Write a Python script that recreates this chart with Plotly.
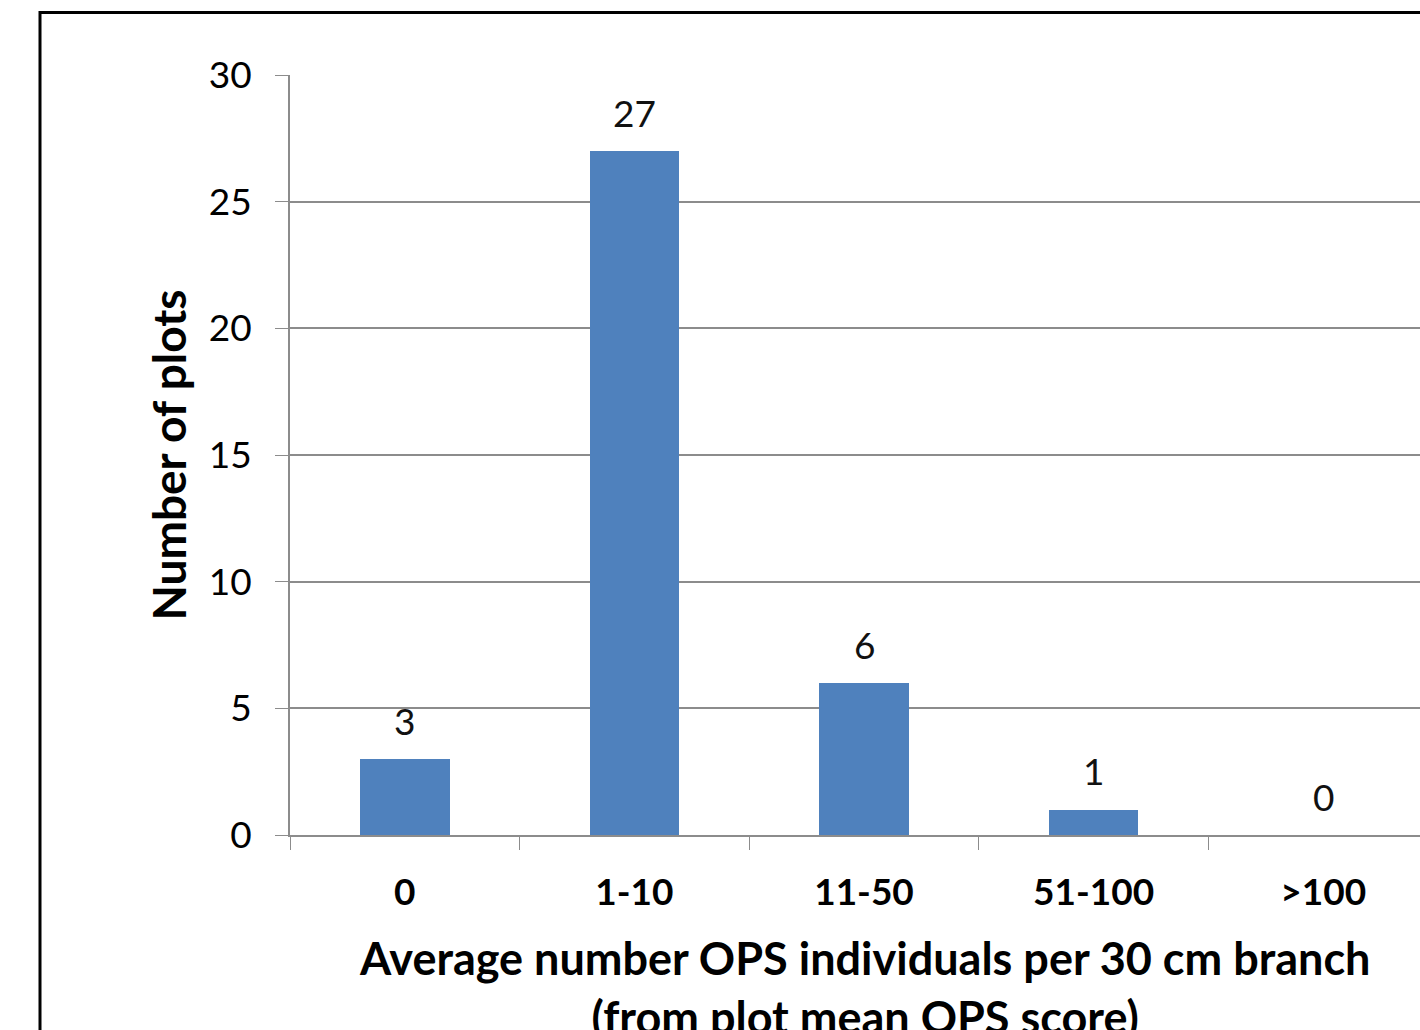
import plotly.graph_objects as go

# Distribution of plots by average OPS individuals per 30 cm branch
categories = ["0", "1-10", "11-50", "51-100", ">100"]
plot_counts = [3, 27, 6, 1, 0]
y_ticks = [0, 5, 10, 15, 20, 25, 30]

BAR_COLOR = "#4F81BD"
GRID_COLOR = "#8C8C8C"
FONT = "Lato"

W, H = 1420, 1030
M_L, M_R, M_T, M_B = 290, 0, 75, 195

fig = go.Figure()
fig.add_trace(go.Bar(
    x=categories,
    y=plot_counts,
    marker=dict(color=BAR_COLOR, line=dict(width=0)),
    width=0.39,
    hoverinfo="skip",
))

# Value labels above each bar
for cat, val in zip(categories, plot_counts):
    fig.add_annotation(
        x=cat, y=val, xref="x", yref="y",
        text=str(val), showarrow=False,
        yanchor="middle", yshift=39,
        font=dict(family=FONT, size=37, color="#111111"),
    )

# X-axis title placed under the centre of the category span
fig.add_annotation(
    x=2, xref="x", y=0, yref="paper",
    yanchor="top", yshift=-94,
    text="<b>Average number OPS individuals per 30 cm branch</b><br><b>(from plot mean OPS score)</b>",
    showarrow=False,
    font=dict(family=FONT, size=45, color="#000000"),
    align="center",
)

# Outer chart frame
n_px_x = W - M_L - M_R
n_px_y = H - M_T - M_B
fig.add_shape(
    type="rect", xref="paper", yref="paper",
    x0=(40 - M_L) / n_px_x, x1=(W + 20 - M_L) / n_px_x,
    y0=-(H + 20 - (H - M_B)) / n_px_y, y1=1 + (M_T - 12.5) / n_px_y,
    line=dict(color="#000000", width=3),
    fillcolor="rgba(0,0,0,0)",
    layer="above",
)

fig.update_layout(
    width=W, height=H,
    margin=dict(l=M_L, r=M_R, t=M_T, b=M_B, pad=0),
    paper_bgcolor="white",
    plot_bgcolor="white",
    showlegend=False,
    bargap=0,
    font=dict(family=FONT, color="#000000"),
)

fig.update_xaxes(
    type="category",
    range=[-0.5, 4.4216],
    showgrid=False,
    showline=True, linecolor=GRID_COLOR, linewidth=2,
    ticks="outside", tickson="boundaries", ticklen=13, tickcolor=GRID_COLOR, tickwidth=1,
    tickfont=dict(family=FONT, size=37, color="#000000", weight="bold"),
    ticklabelstandoff=24,
)

fig.update_yaxes(
    range=[0, 30],
    tickvals=y_ticks,
    showgrid=True, gridcolor=GRID_COLOR, gridwidth=1.5,
    showline=True, linecolor=GRID_COLOR, linewidth=2,
    ticks="outside", ticklen=13, tickcolor=GRID_COLOR, tickwidth=1,
    tickfont=dict(family=FONT, size=37, color="#000000"),
    ticklabelstandoff=16,
    zeroline=False,
    title=dict(text="<b>Number of plots</b>", font=dict(family=FONT, size=46, color="#000000"), standoff=8),
)

fig.write_html("out.html")
